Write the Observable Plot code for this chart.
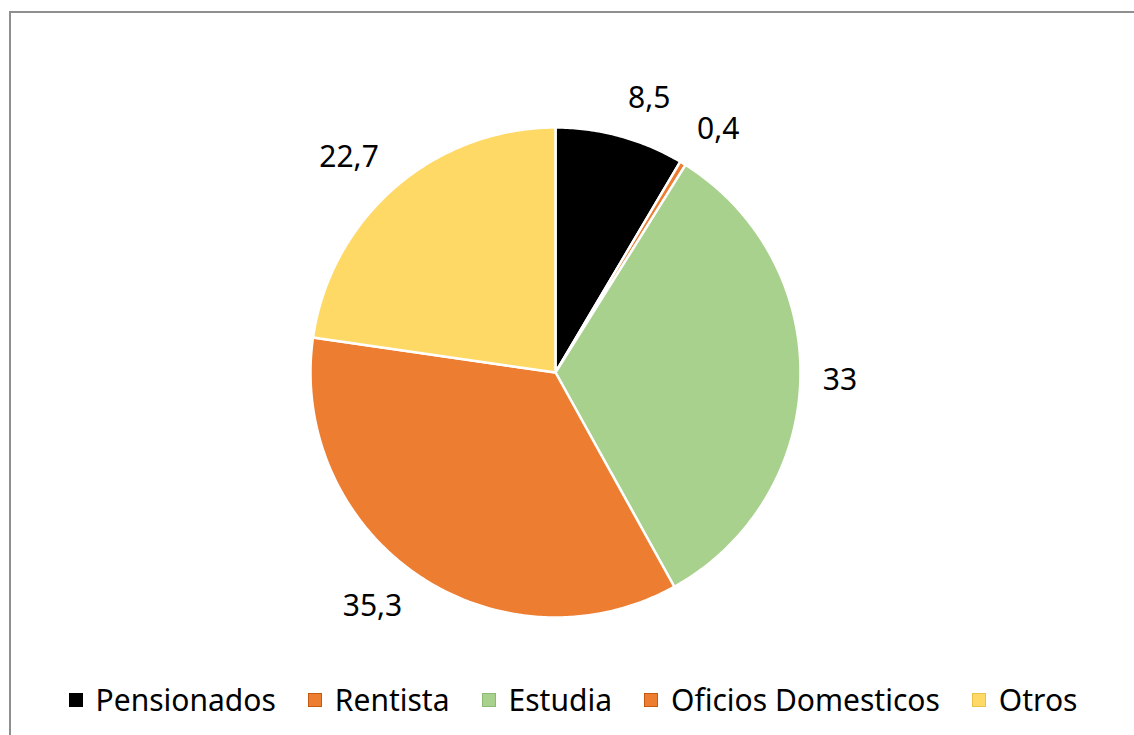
<!DOCTYPE html>
<html>
<head>
<meta charset="utf-8">
<script src="https://cdn.jsdelivr.net/npm/d3@7"></script>
<script src="https://cdn.jsdelivr.net/npm/@observablehq/plot@0.6"></script>
<style>
  html, body { margin: 0; padding: 0; background: #fff; width: 1134px; height: 735px; overflow: hidden; }
  #frame { position: absolute; left: 9px; top: 11px; width: 1140px; height: 740px; border-left: 2px solid #8f8f8f; border-top: 2px solid #8f8f8f; box-sizing: border-box; }
  #chart { position: absolute; left: 0; top: 0; }
  #legend { position: absolute; left: 0; top: 680px; width: 1134px; height: 40px; line-height: 40px; display: flex; justify-content: center; font-family: "Noto Sans", sans-serif; font-size: 30px; color: #000; padding-left: 12px; box-sizing: border-box; }
  .item { display: flex; align-items: center; margin: 0 16px; white-space: nowrap; }
  .sw { width: 14px; height: 14px; margin-right: 13px; box-sizing: border-box; }
</style>
</head>
<body>
<div id="frame"></div>
<div id="chart"></div>
<div id="legend"></div>
<script>
// Data (order as drawn clockwise from 12 o'clock)
const categories = ["Pensionados", "Rentista", "Estudia", "Oficios Domesticos", "Otros"];
const values = [8.5, 0.4, 33, 35.3, 22.7];
const labels = ["8,5", "0,4", "33", "35,3", "22,7"];
const colors = ["#000000", "#ED7D31", "#A9D18E", "#ED7D31", "#FFD966"];
const swatchBorders = ["#000000", "#C55A11", "#8FB872", "#C55A11", "#E8C04A"];

const W = 1134, H = 665;
const cx = 555, cy = 372; // pixel center
const R = 245;

const pie = d3.pie().sort(null).value(d => d.value);
const rows = categories.map((c, i) => ({category: c, value: values[i], label: labels[i]}));
const arcs = pie(rows);

// polygon outlines of the slices (data units = px relative to center, y up)
const poly = [];
arcs.forEach((a) => {
  poly.push({cat: a.data.category, x: 0, y: 0});
  const n = Math.max(2, Math.ceil((a.endAngle - a.startAngle) / 0.01));
  for (let k = 0; k <= n; k++) {
    const t = a.startAngle + (a.endAngle - a.startAngle) * k / n;
    poly.push({cat: a.data.category, x: R * Math.sin(t), y: R * Math.cos(t)});
  }
});

// label anchors, placed outside the rim
const labelPts = arcs.map(a => {
  const m = (a.startAngle + a.endAngle) / 2;
  const s = Math.sin(m), c = Math.cos(m);
  const hw = a.data.label.length * 7.5, hh = 15;
  const r0 = R * 1.1;
  const xo = Math.abs(s) > 0.1 ? Math.sign(s) * hw : 0;
  return {label: a.data.label, x: r0 * s + xo, y: r0 * c + c * hh};
});

const chart = Plot.plot({
  width: W,
  height: H,
  margin: 0,
  x: {domain: [-cx, W - cx], range: [0, W], axis: null},
  y: {domain: [cy - H, cy], range: [H, 0], axis: null},
  marks: [
    Plot.line(poly, {x: "x", y: "y", z: "cat", fill: d => colors[categories.indexOf(d.cat)], stroke: "#ffffff", strokeWidth: 2.5, curve: "linear-closed", strokeLinejoin: "round"}),
    Plot.text(labelPts, {x: "x", y: "y", text: "label", fontSize: 30, fontFamily: "Noto Sans, sans-serif", fill: "#000"})
  ]
});
document.getElementById("chart").appendChild(chart);

const legend = document.getElementById("legend");
categories.forEach((c, i) => {
  const item = document.createElement("div");
  item.className = "item";
  const sw = document.createElement("div");
  sw.className = "sw";
  sw.style.background = colors[i];
  sw.style.border = "1px solid " + swatchBorders[i];
  const tx = document.createElement("span");
  tx.textContent = c;
  item.appendChild(sw);
  item.appendChild(tx);
  legend.appendChild(item);
});
</script>
</body>
</html>
